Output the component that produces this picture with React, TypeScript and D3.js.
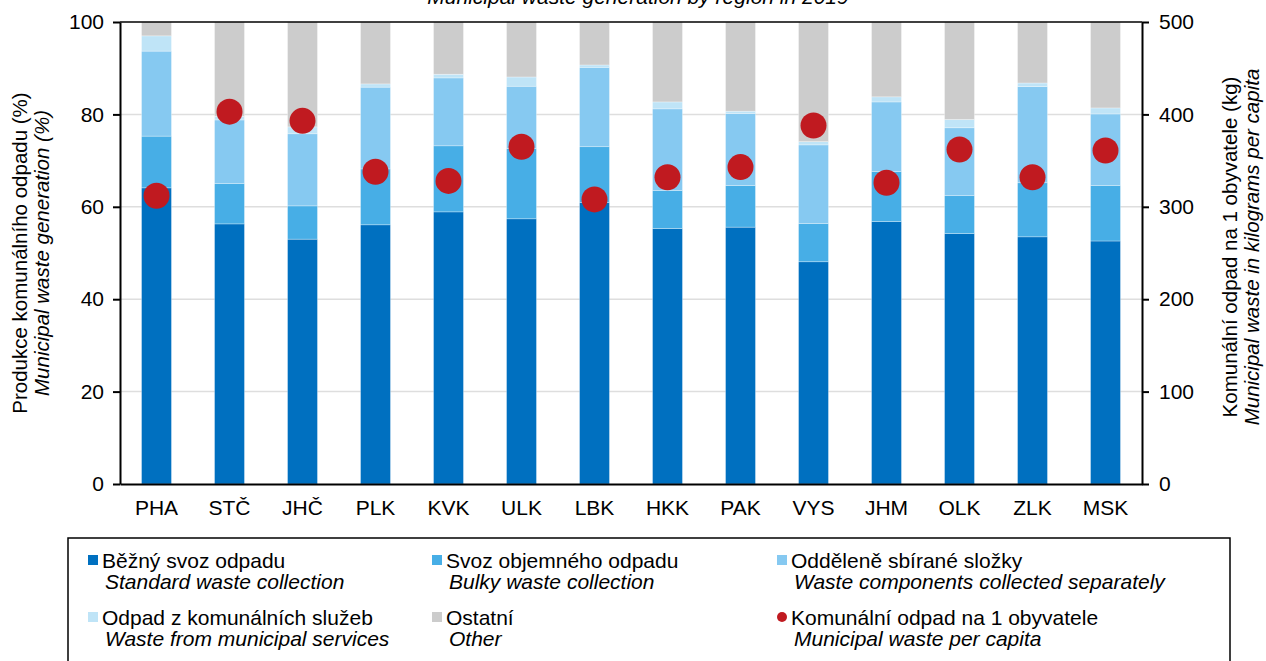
import { useEffect, useRef } from "react";
import * as d3 from "d3";

const regions = ["PHA", "STČ", "JHČ", "PLK", "KVK", "ULK", "LBK", "HKK", "PAK", "VYS", "JHM", "OLK", "ZLK", "MSK"];

// shares of municipal waste generation (%)
const standard = [64.1, 56.3, 53.0, 56.1, 58.9, 57.4, 60.9, 55.3, 55.6, 48.1, 56.8, 54.2, 53.5, 52.6];
const bulky = [11.2, 8.7, 7.2, 12.1, 14.3, 15.2, 12.1, 8.2, 9.0, 8.3, 10.8, 8.2, 11.7, 12.0];
const separate = [18.4, 13.8, 15.6, 17.7, 14.7, 13.5, 17.2, 17.7, 15.6, 17.0, 15.1, 14.7, 20.8, 15.5];
const services = [3.3, 0.8, 1.5, 0.7, 0.8, 2.0, 0.5, 1.5, 0.5, 0.7, 1.1, 1.8, 0.8, 1.3];
const other = [3.0, 20.4, 22.7, 13.4, 11.3, 11.9, 9.3, 17.3, 19.3, 25.9, 16.2, 21.1, 13.2, 18.6];

// kg per capita
const perCapita = [312, 403, 393, 338, 328, 365, 308, 332, 343, 388, 326, 362, 332, 361];

const leftTicks = [0, 20, 40, 60, 80, 100];
const rightTicks = [0, 100, 200, 300, 400, 500];

const seriesKeys = ["standard", "bulky", "separate", "services", "other"];
const colors = ["#0070c0", "#47aee6", "#86c9f1", "#bfe4f7", "#cccccc"];
const dotColor = "#c01a20";

const legendItems = [
  { cz: "Běžný svoz odpadu", en: "Standard waste collection", color: colors[0], dot: false },
  { cz: "Svoz objemného odpadu", en: "Bulky waste collection", color: colors[1], dot: false },
  { cz: "Odděleně sbírané složky", en: "Waste components collected separately", color: colors[2], dot: false },
  { cz: "Odpad z komunálních služeb", en: "Waste from municipal services", color: colors[3], dot: false },
  { cz: "Ostatní", en: "Other", color: colors[4], dot: false },
  { cz: "Komunální odpad na 1 obyvatele", en: "Municipal waste per capita", color: dotColor, dot: true },
];

const FONT = "'Liberation Sans', Arial, sans-serif";

const App = () => {
  const ref = useRef<SVGSVGElement | null>(null);

  useEffect(() => {
    if (!ref.current) return;
    const svg = d3.select(ref.current);
    svg.selectAll("*").remove();

    const width = 1266;
    const height = 661;
    const margin = { top: 22, right: 124, bottom: 177, left: 120 };

    const x = d3.scaleBand()
      .domain(regions)
      .range([margin.left, width - margin.right])
      .paddingInner(0.59)
      .paddingOuter(0.295);

    const y = d3.scaleLinear().domain([0, 100]).range([height - margin.bottom, margin.top]);
    const y2 = d3.scaleLinear().domain([0, 500]).range([height - margin.bottom, margin.top]);

    const x0 = margin.left;
    const x1 = width - margin.right;

    // title (clipped at top in original)
    svg.append("text")
      .attr("x", 638)
      .attr("y", 4)
      .attr("text-anchor", "middle")
      .style("font-family", FONT)
      .style("font-size", "21px")
      .style("font-style", "italic")
      .text("Municipal waste generation by region in 2019");

    // grid
    svg.append("g")
      .selectAll("line")
      .data(leftTicks.filter(t => t > 0 && t < 100))
      .join("line")
      .attr("x1", x0)
      .attr("x2", x1)
      .attr("y1", d => y(d))
      .attr("y2", d => y(d))
      .attr("stroke", "#dedede")
      .attr("stroke-width", 1.5);

    const table = regions.map((r, i) => ({
      region: r,
      standard: standard[i],
      bulky: bulky[i],
      separate: separate[i],
      services: services[i],
      other: other[i],
    }));

    const stacked = d3.stack<any>().keys(seriesKeys)(table);

    svg.append("g")
      .selectAll("g")
      .data(stacked)
      .join("g")
      .attr("fill", (_d, i) => colors[i])
      .selectAll("rect")
      .data(d => d)
      .join("rect")
      .attr("x", d => x(d.data.region)!)
      .attr("width", x.bandwidth())
      .attr("y", d => y(d[1]))
      .attr("height", d => y(d[0]) - y(d[1]))
      .attr("stroke", "#ffffff")
      .attr("stroke-opacity", 0.5)
      .attr("stroke-width", 0.6);

    // frame: top line and bottom axis
    svg.append("line")
      .attr("x1", x0).attr("x2", x1)
      .attr("y1", y(100)).attr("y2", y(100))
      .attr("stroke", "#000").attr("stroke-width", 1.5);

    const axisStyle = (g: d3.Selection<SVGGElement, unknown, null, undefined>) => {
      g.select(".domain").attr("stroke", "#000").attr("stroke-width", 2);
      g.selectAll(".tick line").attr("stroke", "#000").attr("stroke-width", 2);
      g.selectAll("text")
        .attr("fill", "#000")
        .style("font-family", FONT)
        .style("font-size", "21px");
    };

    svg.append("g")
      .attr("transform", `translate(0,${y(0)})`)
      .call(d3.axisBottom(x).tickSize(0).tickPadding(16))
      .call(axisStyle);

    svg.append("g")
      .attr("transform", `translate(${x0},0)`)
      .call(d3.axisLeft(y).tickValues(leftTicks).tickSize(7).tickSizeOuter(0).tickPadding(9))
      .call(axisStyle);

    svg.append("g")
      .attr("transform", `translate(${x1},0)`)
      .call(d3.axisRight(y2).tickValues(rightTicks).tickSize(7).tickSizeOuter(0).tickPadding(10))
      .call(axisStyle);

    // per capita dots
    svg.append("g")
      .selectAll("circle")
      .data(perCapita)
      .join("circle")
      .attr("cx", (_d, i) => x(regions[i])! + x.bandwidth() / 2)
      .attr("cy", d => y2(d))
      .attr("r", 13)
      .attr("fill", dotColor);

    // axis titles
    const midY = (y(0) + y(100)) / 2;
    const lt = svg.append("text")
      .attr("transform", `translate(27,${midY}) rotate(-90)`)
      .attr("text-anchor", "middle")
      .style("font-family", FONT)
      .style("font-size", "20.5px");
    lt.append("tspan").attr("x", 0).attr("dy", 0).text("Produkce komunálního odpadu (%)");
    lt.append("tspan").attr("x", 0).attr("dy", 22).style("font-style", "italic").text("Municipal waste generation (%)");

    const rt = svg.append("text")
      .attr("transform", `translate(1237,${midY - 6}) rotate(-90)`)
      .attr("text-anchor", "middle")
      .style("font-family", FONT)
      .style("font-size", "20.5px");
    rt.append("tspan").attr("x", 0).attr("dy", 0).text("Komunální odpad na 1 obyvatele (kg)");
    rt.append("tspan").attr("x", 0).attr("dy", 22).style("font-style", "italic").text("Municipal waste in kilograms per capita");

    // legend
    svg.append("rect")
      .attr("x", 68)
      .attr("y", 538)
      .attr("width", 1162)
      .attr("height", 140)
      .attr("fill", "none")
      .attr("stroke", "#000")
      .attr("stroke-width", 1.5);

    const colX = [88, 432, 777];
    const rowY = [568, 625];
    const lg = svg.append("g")
      .selectAll("g")
      .data(legendItems)
      .join("g")
      .attr("transform", (_d, i) => `translate(${colX[i % 3]},${rowY[Math.floor(i / 3)]})`);

    lg.filter(d => !d.dot)
      .append("rect")
      .attr("x", 0).attr("y", -13)
      .attr("width", 10).attr("height", 10)
      .attr("fill", d => d.color);
    lg.filter(d => d.dot)
      .append("circle")
      .attr("cx", 5).attr("cy", -8)
      .attr("r", 5)
      .attr("fill", d => d.color);

    lg.append("text")
      .attr("x", 14)
      .attr("y", 0)
      .style("font-family", FONT)
      .style("font-size", "21px")
      .text(d => d.cz);
    lg.append("text")
      .attr("x", 17)
      .attr("y", 21)
      .style("font-family", FONT)
      .style("font-size", "21px")
      .style("font-style", "italic")
      .text(d => d.en);
  }, []);

  return (
    <svg
      ref={ref}
      width={1266}
      height={661}
      style={{ position: "absolute", left: 0, top: 0, background: "#fff" }}
    />
  );
};

export default App;
